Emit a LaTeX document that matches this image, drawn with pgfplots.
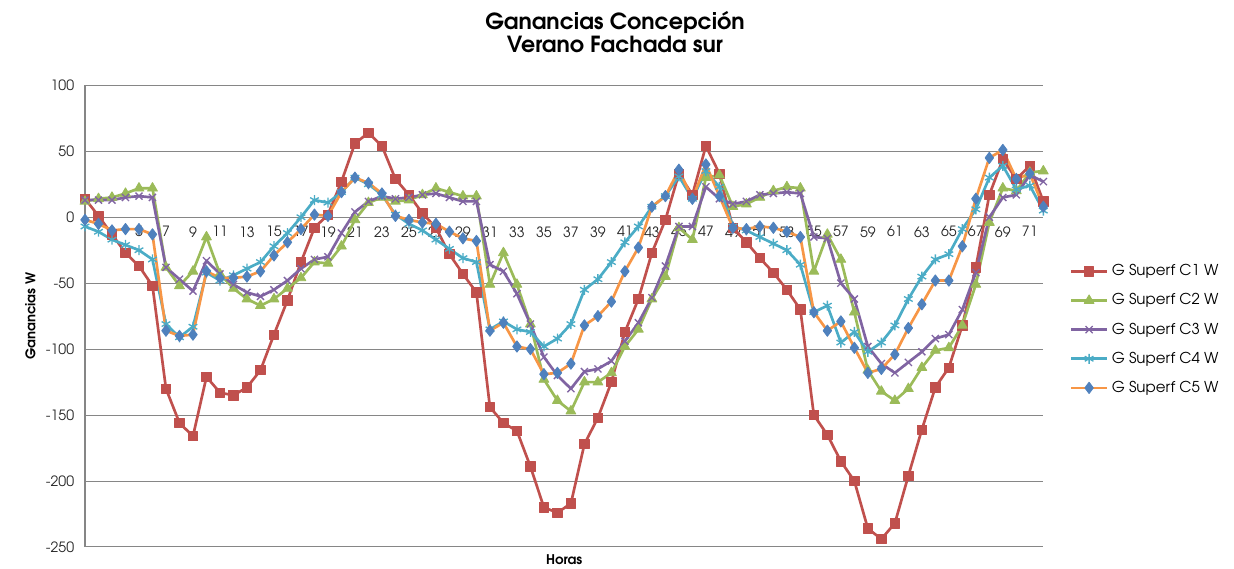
\documentclass[border=0pt]{standalone}
\usepackage{fontspec}
\setmainfont{texgyreadventor}[Extension=.otf, UprightFont=*-regular, BoldFont=*-bold, ItalicFont=*-italic, BoldItalicFont=*-bolditalic]
\usepackage{pgfplots}
\usepackage{pgfplotstable}
\pgfplotsset{compat=1.18}

\definecolor{cA}{RGB}{192,80,77}
\definecolor{cB}{RGB}{155,187,89}
\definecolor{cC}{RGB}{128,100,162}
\definecolor{cD}{RGB}{75,172,198}
\definecolor{cE}{RGB}{247,150,70}
\definecolor{cEm}{RGB}{79,129,189}
\definecolor{gridc}{RGB}{134,134,134}

\pgfplotstableread{
h c1 c2 c3 c4 c5
1 14 12 13 -7 -2
2 1 14 13 -11 -5
3 -13 15 13 -17 -10
4 -27 18 15 -21 -9
5 -37 22 16 -25 -9
6 -52 22 15 -32 -13
7 -130 -38 -38 -81 -86
8 -156 -52 -47 -91 -90
9 -166 -41 -56 -83 -89
10 -121 -15 -33 -42 -41
11 -133 -43 -43 -48 -46
12 -135 -54 -51 -44 -46
13 -129 -62 -57 -39 -45
14 -116 -67 -60 -34 -41
15 -89 -62 -55 -22 -29
16 -63 -54 -48 -12 -19
17 -34 -46 -39 0 -9
18 -8 -34 -32 13 2
19 2 -35 -30 11 1
20 27 -22 -12 19 19
21 56 -2 4 30 30
22 64 11 12 25 26
23 54 15 16 17 18
24 29 12 14 2 1
25 17 13 15 -5 -2
26 3 17 17 -10 -4
27 -8 22 18 -17 -5
28 -28 19 15 -24 -11
29 -43 16 12 -31 -16
30 -57 16 12 -34 -18
31 -144 -51 -36 -85 -86
32 -156 -27 -41 -79 -80
33 -162 -51 -58 -85 -98
34 -189 -81 -81 -87 -100
35 -220 -123 -106 -98 -119
36 -224 -139 -120 -92 -118
37 -217 -147 -130 -81 -111
38 -172 -125 -117 -55 -82
39 -152 -125 -115 -47 -75
40 -125 -118 -109 -34 -64
41 -87 -98 -94 -19 -41
42 -62 -85 -80 -7 -23
43 -27 -62 -61 8 8
44 -2 -45 -37 16 16
45 33 -8 -7 31 36
46 17 -17 -7 14 14
47 54 30 23 35 40
48 33 32 14 23 16
49 -8 8 10 -7 -8
50 -19 10 12 -10 -9
51 -31 15 17 -15 -7
52 -42 20 18 -20 -8
53 -55 23 19 -25 -11
54 -70 22 18 -36 -15
55 -150 -41 -15 -72 -72
56 -165 -13 -16 -67 -86
57 -185 -32 -50 -95 -79
58 -200 -72 -62 -87 -99
59 -236 -116 -98 -102 -118
60 -244 -132 -111 -95 -115
61 -232 -139 -118 -82 -104
62 -196 -130 -110 -62 -84
63 -161 -114 -102 -45 -66
64 -129 -101 -92 -32 -48
65 -114 -99 -89 -28 -48
66 -82 -82 -70 -9 -22
67 -38 -51 -42 6 14
68 17 -4 0 30 45
69 44 22 15 39 51
70 29 20 17 21 29
71 39 34 32 24 33
72 12 35 27 5 8
}\ganancias

\begin{document}
\begin{tikzpicture}
\useasboundingbox (-51pt,-13.2pt) rectangle (689.4pt,328.2pt);
\begin{axis}[
  at={(0,0)}, anchor=south west,
  scale only axis,
  width=575pt, height=277pt,
  xmin=1, xmax=72,
  ymin=-250, ymax=100,
  enlargelimits=false,
  clip=false,
  axis x line=middle,
  axis y line=left,
  axis line style={-, draw=gridc, line width=0.7pt},
  ymajorgrids,
  grid style={draw=gridc, line width=0.6pt},
  major tick length=0pt,
  xtick={1,3,...,71},
  ytick={-250,-200,...,100},
  /pgf/number format/assume math mode=true,
  tick label style={font=\fontsize{8.5}{10}\selectfont, text=black!85},
  xticklabel style={yshift=-2pt},
  yticklabel style={xshift=-3pt},
  title={Ganancias Concepción\\Verano Fachada sur},
  title style={align=center, font=\fontsize{13.3}{14}\selectfont\bfseries,
    at={(axis description cs:0.553,1)}, anchor=south, yshift=10pt},
  xlabel={Horas},
  xlabel style={font=\fontsize{8}{10}\selectfont\bfseries,
    at={(axis description cs:0.5,0)}, anchor=north, yshift=-1pt},
  ylabel={Ganancias W},
  ylabel style={font=\fontsize{8}{10}\selectfont\bfseries,
    at={(axis description cs:-0.057,0.5)}, anchor=center},
  legend style={draw=none, fill=none,
    at={(axis description cs:1.022,0.627)}, anchor=north west,
    font=\fontsize{9}{11}\selectfont, row sep=5.2pt,
    /tikz/every even column/.append style={column sep=2pt}},
  legend cell align=left,
  legend image code/.code={%
    \draw[mark repeat=2, mark phase=2] plot coordinates {(0cm,0cm) (0.38cm,0cm) (0.76cm,0cm)};},
  every axis plot/.append style={line width=1.6pt, line join=round},
]
\addplot[color=cA, mark=square*, mark size=2.8pt, mark options={fill=cA, line width=0.5pt}] table[x=h, y=c1] {\ganancias};
\addlegendentry{G Superf C1 W}
\addplot[color=cB, mark=triangle*, mark size=3.4pt, mark options={fill=cB, line width=0.5pt}] table[x=h, y=c2] {\ganancias};
\addlegendentry{G Superf C2 W}
\addplot[color=cC, mark=x, mark size=3pt, mark options={line width=0.8pt}] table[x=h, y=c3] {\ganancias};
\addlegendentry{G Superf C3 W}
\addplot[color=cD, mark=asterisk, mark size=3pt, mark options={line width=0.8pt}] table[x=h, y=c4] {\ganancias};
\addlegendentry{G Superf C4 W}
\addplot[color=cE, mark=diamond*, mark size=3.4pt, mark options={fill=cEm, draw=cEm, line width=0.5pt}] table[x=h, y=c5] {\ganancias};
\addlegendentry{G Superf C5 W}
\end{axis}
\end{tikzpicture}
\end{document}
